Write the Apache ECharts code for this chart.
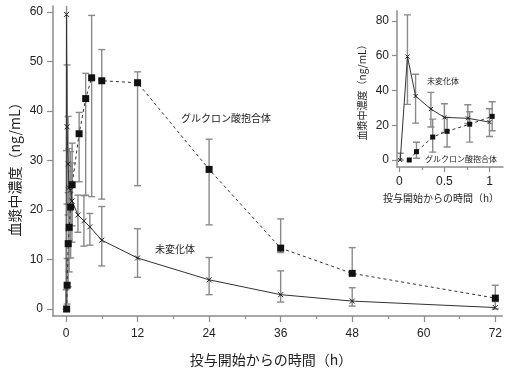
<!DOCTYPE html>
<html><head><meta charset="utf-8">
<script src="https://cdn.jsdelivr.net/npm/echarts@6/dist/echarts.min.js"></script>
<style>html,body{margin:0;padding:0;background:#fff}#c{width:505px;height:372px}</style>
</head><body><div id="c"></div>
<script>
// ---- data ----
const unchangedTimes = [0.01, 0.09, 0.18, 0.35, 0.5, 0.76, 1.0, 2, 3, 4, 6, 12, 24, 36, 48, 72];
const unchangedMean  = [0, 59.5, 36.8, 29.3, 24.5, 24.0, 21.8, 19.0, 17.8, 16.6, 13.9, 10.3, 5.9, 2.9, 1.6, 0.3];
const unchangedLow   = [0, 32.0, 21.2, 19.0, 15.8, 21.0, 13.5, 15.5, 12.7, 12.9, 8.7, 6.4, 2.9, 1.4, 0.6, 0];
const unchangedHigh  = [3.9, 83.5, 49.3, 38.9, 32.4, 31.8, 29.5, 23.0, 22.9, 19.3, 20.7, 16.2, 10.4, 7.7, 4.3, 1.8];

const glucTimes = [0.11, 0.19, 0.37, 0.53, 0.78, 1.03, 2.2, 3.3, 4.3, 6, 12, 24, 36, 48, 72];
const glucMean  = [0, 4.8, 13.2, 16.5, 20.6, 25.1, 35.4, 42.5, 46.7, 46.1, 45.7, 28.2, 12.3, 7.2, 2.2];
const glucLow   = [0, 1.0, 4.5, 7.5, 10.3, 16.8, 25.7, 23.0, 22.7, 22.2, 24.9, 17.0, 11.4, 6.9, 1.5];
const glucHigh  = [0, 10.2, 23.5, 24.5, 27.8, 33.5, 39.7, 47.6, 59.3, 52.4, 47.9, 34.3, 18.2, 12.4, 4.8];

const mainXTicks = [0, 12, 24, 36, 48, 60, 72];
const mainXMinorTicks = [6, 18, 30, 42, 54, 66];
const mainYTicks = [0, 10, 20, 30, 40, 50, 60];
const insetXTicks = [0, 0.5, 1];
const insetXMinorTicks = [0.25, 0.75];
const insetYTicks = [0, 20, 40, 60, 80];
const insetMaxTime = 1.1;

const xTitle = '投与開始からの時間（h）';
const yTitle = '血漿中濃度（ng/mL）';
const labelUnchanged = '未変化体';
const labelGluc = 'グルクロン酸抱合体';

// ---- helpers ----
const pts = (t, v) => t.map((x, i) => [x, v[i]]);
const bars = (t, lo, hi) => t.map((x, i) => [x, lo[i], hi[i]]).filter(d => d[2] > d[1]);
const inset = arr => arr.filter(d => d[0] <= insetMaxTime);

const CJK = '"Noto Sans CJK JP", sans-serif';
const NUM = '"Liberation Sans", Arial, sans-serif';
const axisGrey = '#8c8c8c';
const barGrey = '#8a8a8a';
const lineCol = '#333';
const crossSym = 'path://M0,0L10,10M10,0L0,10';

function errRender(cap) {
  return function (params, api) {
    const x = api.value(0), lo = api.value(1), hi = api.value(2);
    const a = api.coord([x, lo]), b = api.coord([x, hi]);
    const st = { stroke: barGrey, lineWidth: 1.4, fill: null };
    return { type: 'group', children: [
      { type: 'line', shape: { x1: a[0], y1: a[1], x2: b[0], y2: b[1] }, style: st },
      { type: 'line', shape: { x1: a[0] - cap, y1: a[1], x2: a[0] + cap, y2: a[1] }, style: st },
      { type: 'line', shape: { x1: b[0] - cap, y1: b[1], x2: b[0] + cap, y2: b[1] }, style: st }
    ]};
  };
}

function xAxisDef(grid, min, max, ticks, fs, margin, tlen) {
  return { type: 'value', gridIndex: grid, min: min, max: max, position: 'bottom',
    axisLine: { show: true, onZero: false, lineStyle: { color: axisGrey, width: 1.5 } },
    axisTick: { show: true, length: tlen, customValues: ticks, lineStyle: { color: axisGrey, width: 1.2 } },
    axisLabel: { show: true, customValues: ticks, margin: margin, color: '#222', fontSize: fs, fontFamily: NUM, showMinLabel: true, showMaxLabel: true },
    splitLine: { show: false } };
}
function minorXAxis(grid, min, max, ticks, tlen) {
  return { type: 'value', gridIndex: grid, min: min, max: max, position: 'bottom',
    axisLine: { show: false, onZero: false },
    axisTick: { show: true, length: tlen, customValues: ticks, lineStyle: { color: axisGrey, width: 1.2 } },
    axisLabel: { show: false }, splitLine: { show: false } };
}
function yAxisDef(grid, min, max, ticks, fs, margin, tlen) {
  return { type: 'value', gridIndex: grid, min: min, max: max, position: 'left',
    axisLine: { show: true, onZero: false, lineStyle: { color: axisGrey, width: 1.5 } },
    axisTick: { show: true, length: tlen, customValues: ticks, lineStyle: { color: axisGrey, width: 1.2 } },
    axisLabel: { show: true, customValues: ticks, margin: margin, color: '#222', fontSize: fs, fontFamily: NUM, showMinLabel: true, showMaxLabel: true },
    splitLine: { show: false } };
}

const chart = echarts.init(document.getElementById('c'), null, { renderer: 'canvas' });
chart.setOption({
  animation: false,
  backgroundColor: '#fff',
  grid: [
    { left: 53, right: 2, top: 6, bottom: 56 },
    { left: 397, right: 2, top: 10.7, bottom: 205 }
  ],
  xAxis: [
    xAxisDef(0, -2.18, 73.17, mainXTicks, 12, 12, 6),
    minorXAxis(0, -2.18, 73.17, mainXMinorTicks, 3),
    xAxisDef(1, -0.026, 1.15, insetXTicks, 12, 9, 5),
    minorXAxis(1, -0.026, 1.15, insetXMinorTicks, 3)
  ],
  yAxis: [
    yAxisDef(0, -1.41, 61.2, mainYTicks, 12, 10, 6),
    yAxisDef(1, -4.03, 85.9, insetYTicks, 12, 8, 5)
  ],
  series: [
    // main
    { type: 'custom', xAxisIndex: 0, yAxisIndex: 0, clip: true, renderItem: errRender(3.5),
      data: bars(unchangedTimes, unchangedLow, unchangedHigh), z: 1 },
    { type: 'custom', xAxisIndex: 0, yAxisIndex: 0, clip: true, renderItem: errRender(3.5),
      data: bars(glucTimes, glucLow, glucHigh), z: 1 },
    { type: 'line', name: labelUnchanged, xAxisIndex: 0, yAxisIndex: 0, data: pts(unchangedTimes, unchangedMean),
      symbol: crossSym, symbolSize: 5, showAllSymbol: true,
      lineStyle: { color: lineCol, width: 1 },
      itemStyle: { color: 'rgba(0,0,0,0)', borderColor: '#222', borderWidth: 1 }, z: 3 },
    { type: 'line', name: labelGluc, xAxisIndex: 0, yAxisIndex: 0, data: pts(glucTimes, glucMean),
      symbol: 'rect', symbolSize: 7, showAllSymbol: true,
      lineStyle: { color: lineCol, width: 1, type: [3, 3] },
      itemStyle: { color: '#111' }, z: 4 },
    // inset
    { type: 'custom', xAxisIndex: 2, yAxisIndex: 1, clip: true, renderItem: errRender(3.5),
      data: inset(bars(unchangedTimes, unchangedLow, unchangedHigh)), z: 1 },
    { type: 'custom', xAxisIndex: 2, yAxisIndex: 1, clip: true, renderItem: errRender(3.5),
      data: inset(bars(glucTimes, glucLow, glucHigh)), z: 1 },
    { type: 'line', xAxisIndex: 2, yAxisIndex: 1, data: inset(pts(unchangedTimes, unchangedMean)),
      symbol: crossSym, symbolSize: 4, showAllSymbol: true,
      lineStyle: { color: lineCol, width: 1 },
      itemStyle: { color: 'rgba(0,0,0,0)', borderColor: '#222', borderWidth: 1 }, z: 3 },
    { type: 'line', xAxisIndex: 2, yAxisIndex: 1, data: inset(pts(glucTimes, glucMean)),
      symbol: 'rect', symbolSize: 5, showAllSymbol: true,
      lineStyle: { color: lineCol, width: 1, type: [3, 3] },
      itemStyle: { color: '#111' }, z: 4 }
  ],
  graphic: [
    { type: 'text', x: 271, y: 360, style: { text: xTitle, font: '14px ' + CJK, fill: '#222', textAlign: 'center', textVerticalAlign: 'middle' } },
    { type: 'text', x: 15, y: 166, rotation: Math.PI / 2, style: { text: yTitle, font: '14px ' + CJK, fill: '#222', textAlign: 'center', textVerticalAlign: 'middle' } },
    { type: 'text', x: 226, y: 118, style: { text: labelGluc, font: '10px ' + CJK, fill: '#222', textAlign: 'center', textVerticalAlign: 'middle' } },
    { type: 'text', x: 175, y: 249, style: { text: labelUnchanged, font: '10px ' + CJK, fill: '#222', textAlign: 'center', textVerticalAlign: 'middle' } },
    { type: 'text', x: 441, y: 198, style: { text: xTitle, font: '10px ' + CJK, fill: '#222', textAlign: 'center', textVerticalAlign: 'middle' } },
    { type: 'text', x: 362, y: 90, rotation: Math.PI / 2, style: { text: yTitle, font: '10px ' + CJK, fill: '#222', textAlign: 'center', textVerticalAlign: 'middle' } },
    { type: 'text', x: 443, y: 81, style: { text: labelUnchanged, font: '8px ' + CJK, fill: '#222', textAlign: 'center', textVerticalAlign: 'middle' } },
    { type: 'text', x: 461, y: 159, style: { text: labelGluc, font: '8px ' + CJK, fill: '#222', textAlign: 'center', textVerticalAlign: 'middle' } }
  ]
});
</script></body></html>
